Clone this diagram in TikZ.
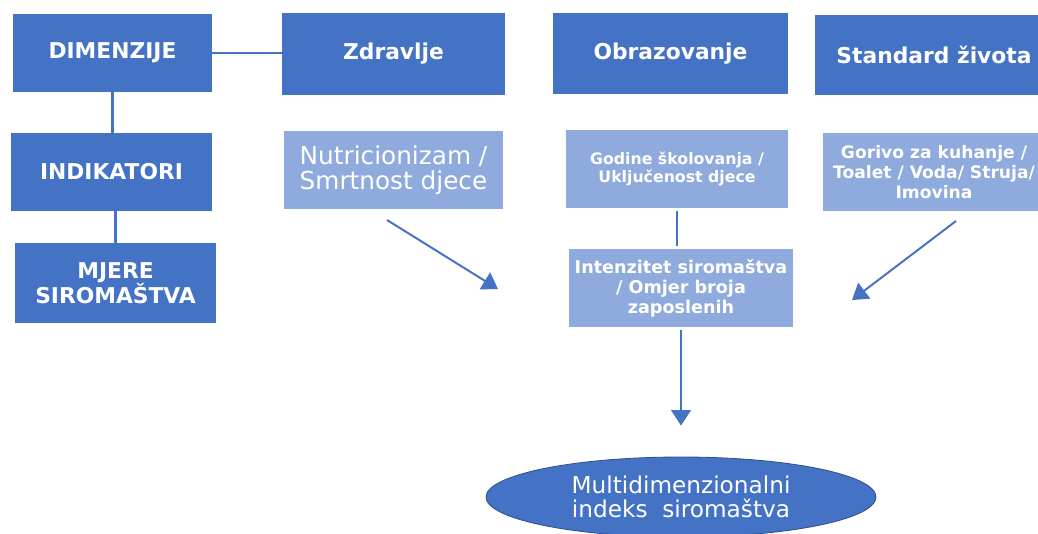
\documentclass[tikz,border=0pt]{standalone}
\usepackage{fontspec}
\setmainfont{DejaVu Sans}
\usetikzlibrary{arrows.meta,shapes.geometric}

\definecolor{darkbox}{HTML}{4472C4}
\definecolor{lightbox}{HTML}{8FAADC}
\definecolor{rimblue}{HTML}{2F528F}

\def\px{0.025cm}

\tikzset{
  dimbox/.style={fill=darkbox, text=white, inner sep=0pt, align=center,
    font=\fontsize{15.5}{17.8}\selectfont\bfseries},
  indbox/.style={fill=lightbox, text=white, inner sep=0pt, align=center},
  link/.style={draw=darkbox, line width=2.1pt},
  arr/.style={draw=darkbox, line width=1.4pt, -{Triangle[width=14pt, length=11pt]}},
}

\begin{document}
\begin{tikzpicture}[x=\px, y=-\px]
  \useasboundingbox (0,0) rectangle (1038,533);

  % dimensions
  \node[dimbox, minimum width=199*\px, minimum height=78*\px] (dim) at (112.5,53) {DIMENZIJE};
  \node[dimbox, minimum width=223*\px, minimum height=82*\px] (zdr) at (393.5,54) {Zdravlje};
  \node[dimbox, minimum width=235*\px, minimum height=81*\px] (obr) at (670.5,53.5) {Obrazovanje};
  \node[dimbox, minimum width=238*\px, minimum height=80*\px] (std) at (934,55) {Standard života};
  \node[dimbox, minimum width=201*\px, minimum height=78*\px] (ind) at (111.5,172) {INDIKATORI};
  \node[dimbox, minimum width=201*\px, minimum height=80*\px] (mje) at (115.5,283) {MJERE\\SIROMAŠTVA};

  % indicators
  \node[indbox, minimum width=219*\px, minimum height=78*\px,
    font=\fontsize{17.6}{18}\selectfont] (nut) at (393.5,170) {Nutricionizam /\\Smrtnost djece};
  \node[indbox, minimum width=222*\px, minimum height=78*\px,
    font=\fontsize{11.2}{13}\selectfont\bfseries] (god) at (677,169) {Godine školovanja /\\Uključenost djece};
  \node[indbox, minimum width=222*\px, minimum height=78*\px,
    font=\fontsize{12.2}{14.2}\selectfont\bfseries] (gor) at (934,172) {Gorivo za kuhanje /\\Toalet / Voda/ Struja/\\Imovina};
  \node[indbox, minimum width=224*\px, minimum height=78*\px,
    font=\fontsize{12.5}{14.2}\selectfont\bfseries] (int) at (681,288) {Intenzitet siromaštva\\/ Omjer broja\\zaposlenih};

  % index
  \node[ellipse, fill=darkbox, draw=rimblue, line width=0.6pt, text=white, inner sep=0pt,
    minimum width=390*\px, minimum height=80*\px, align=center,
    font=\fontsize{16.5}{17}\selectfont] (mpi) at (681,497) {Multidimenzionalni\\indeks\ \ siromaštva};

  % lines
  \draw[link] (dim.east) -- (dim.east -| zdr.west);
  \draw[link] (dim.south) -- (dim.south |- ind.north);
  \draw[link] (mje.north |- ind.south) -- (mje.north);
  \draw[link, shorten <=3*\px, shorten >=3*\px] (god.south) -- (god.south |- int.north);

  % arrows
  \coordinate (nutA) at (387,220);
  \coordinate (nutB) at (498,289);
  \coordinate (gorA) at (956,221);
  \coordinate (gorB) at (852,300);
  \draw[arr] (nutA) -- (nutB);
  \draw[arr] (gorA) -- (gorB);
  \draw[arr, shorten <=3*\px, shorten >=31*\px] (int.south) -- (mpi.north);
\end{tikzpicture}
\end{document}
